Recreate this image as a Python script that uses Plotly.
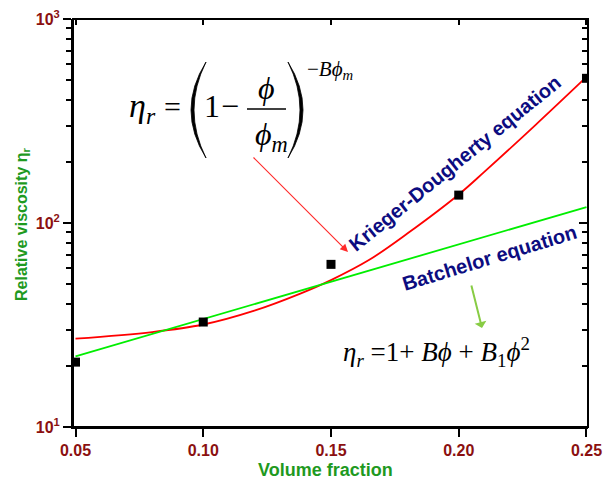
import plotly.graph_objects as go

# Measured relative viscosity vs. volume fraction
phi = [0.05, 0.10, 0.15, 0.20, 0.25]
eta_measured = [20.8, 32.7, 62.7, 137.0, 512.0]

# Krieger-Dougherty fitted curve
kd_phi = [0.05, 0.08, 0.10, 0.12, 0.138, 0.15, 0.165, 0.18, 0.20, 0.21, 0.23, 0.25]
kd_eta = [27.1, 29.2, 31.8, 37.2, 45.1, 52.5, 66.0, 89.0, 138.0, 178.0, 302.0, 520.0]

# Batchelor fitted curve
bat_phi = [0.05, 0.10, 0.15, 0.20, 0.25]
bat_eta = [22.2, 33.8, 51.5, 78.5, 119.7]

x_ticks = [0.05, 0.10, 0.15, 0.20, 0.25]
x_ticktext = ["0.05", "0.10", "0.15", "0.20", "0.25"]
y_ticks = [10, 100, 1000]
y_ticktext = ["10<sup>1</sup>", "10<sup>2</sup>", "10<sup>3</sup>"]

W, H = 603, 483
L, R, T, B = 73, 15, 19, 56
PW, PH = W - L - R, H - T - B

def px(x):
    return (x - L) / PW

def py(y):
    return (H - B - y) / PH

TICK_COLOR = "#8b1010"
TITLE_COLOR = "#1f9a1f"
NAVY = "#0c0c80"
SERIF = "Liberation Serif"
SANS = "Arial"

def bold_font(size, color):
    return dict(family=SANS, size=size, color=color, weight=700)

x_range = [0.04902, 0.25059]
y_range = [1, 3]

fig = go.Figure()
fig.add_trace(go.Scatter(x=kd_phi, y=kd_eta, mode="lines",
                         line=dict(color="#ff0000", width=1.8, shape="spline", smoothing=1.0),
                         showlegend=False, hoverinfo="skip"))
fig.add_trace(go.Scatter(x=bat_phi, y=bat_eta, mode="lines",
                         line=dict(color="#00ee00", width=1.8),
                         showlegend=False, hoverinfo="skip"))
# measured points sit on the top/right axes, which share the same ranges
fig.add_trace(go.Scatter(x=phi, y=eta_measured, mode="markers", xaxis="x2", yaxis="y2",
                         marker=dict(symbol="square", size=9, color="black"),
                         showlegend=False))

base = dict(showgrid=False, zeroline=False, tickcolor="black", automargin=False)

fig.update_layout(
    width=W, height=H,
    margin=dict(l=L, r=R, t=T, b=B),
    paper_bgcolor="white", plot_bgcolor="white",
    xaxis=dict(range=x_range, tickvals=x_ticks, ticktext=x_ticktext,
               ticks="outside", ticklen=8, tickwidth=2, ticklabeloverflow="allow",
               showline=True, linecolor="black", linewidth=2,
               tickfont=bold_font(16, TICK_COLOR), **base),
    yaxis=dict(type="log", range=y_range, tickvals=y_ticks, ticktext=y_ticktext,
               ticks="outside", ticklen=8, tickwidth=2,
               minor=dict(dtick="D1", ticks="outside", ticklen=5, tickwidth=2,
                          tickcolor="black", showgrid=False),
               showline=True, linecolor="black", linewidth=2,
               tickfont=bold_font(16, TICK_COLOR), **base),
    # top and right edges with inward ticks
    xaxis2=dict(range=x_range, overlaying="x", side="top", anchor="free", position=1,
                tickvals=x_ticks, ticks="inside", ticklen=5, tickwidth=2,
                showticklabels=False, showline=True, linecolor="black", linewidth=2, **base),
    yaxis2=dict(type="log", range=y_range, overlaying="y", side="right", anchor="free",
                position=1, tickvals=y_ticks, ticks="inside", ticklen=8, tickwidth=2,
                minor=dict(dtick="D1", ticks="inside", ticklen=5, tickwidth=2,
                           tickcolor="black", showgrid=False),
                showticklabels=False, showline=True, linecolor="black", linewidth=2, **base),
)

ann = []

# axis titles
ann.append(dict(text="<b>Volume fraction</b>", x=px(325), y=py(470), xref="paper",
                yref="paper", showarrow=False, xanchor="center", yanchor="middle",
                font=bold_font(18, TITLE_COLOR)))
ann.append(dict(text="<b>Relative viscosity</b> η<sub>r</sub>", x=px(22), y=py(224),
                xref="paper", yref="paper", showarrow=False, textangle=-90,
                xanchor="center", yanchor="middle", font=bold_font(16, TITLE_COLOR)))

# Krieger-Dougherty equation, built piece by piece
def eq(text, x, y, size):
    ann.append(dict(text=text, x=px(x), y=py(y), xref="paper", yref="paper",
                    showarrow=False, xanchor="center", yanchor="middle",
                    font=dict(family=SERIF, size=size, color="black")))

eq("<i>η</i><sub><i>r</i></sub>", 142, 108, 34)
eq("=", 172, 106, 30)
eq("1", 212, 106, 32)
eq("−", 230, 106, 32)
eq("<i>ϕ</i>", 266, 88, 32)
eq("<i>ϕ</i><sub><i>m</i></sub>", 271, 136, 32)
eq("−<i>Bϕ</i><sub><i>m</i></sub>", 330, 70, 21)

shapes = [
    # plot frame
    dict(type="rect", xref="paper", yref="paper", x0=0, x1=1, y0=0, y1=1,
         line=dict(color="black", width=2), layer="above"),
    # fraction bar
    dict(type="line", xref="paper", yref="paper",
         x0=px(247), x1=px(286), y0=py(109), y1=py(109),
         line=dict(color="black", width=1.5)),
]

def paren(x_end, x_ctrl_outer, x_ctrl_inner, y0, y1):
    ym = (y0 + y1) / 2
    path = (f"M {px(x_end)},{py(y0)} Q {px(x_ctrl_outer)},{py(ym)} {px(x_end)},{py(y1)} "
            f"Q {px(x_ctrl_inner)},{py(ym)} {px(x_end)},{py(y0)} Z")
    return dict(type="path", xref="paper", yref="paper", path=path,
                fillcolor="black", line=dict(color="black", width=0.8))

shapes.append(paren(206, 176, 182, 62, 158))
shapes.append(paren(288, 318, 312, 62, 158))

# Batchelor equation
eq("<i>η</i><sub><i>r</i></sub> =1+ <i>Bϕ</i> + <i>B</i><sub>1</sub><i>ϕ</i><sup>2</sup>",
   436, 352, 27)

# curve labels
ann.append(dict(text="<b>Krieger-Dougherty equation</b>", x=px(455), y=py(163),
                xref="paper", yref="paper", showarrow=False, textangle=-39,
                xanchor="center", yanchor="middle", font=bold_font(20, NAVY)))
ann.append(dict(text="<b>Batchelor equation</b>", x=px(489), y=py(258),
                xref="paper", yref="paper", showarrow=False, textangle=-17,
                xanchor="center", yanchor="middle", font=bold_font(20, NAVY)))

# pointer arrows
ann.append(dict(text="", x=px(348), y=py(252), xref="paper", yref="paper",
                ax=-96, ay=-96, showarrow=True, arrowhead=2, arrowsize=1.3,
                arrowwidth=1.2, arrowcolor="#ff2a2a"))
ann.append(dict(text="", x=px(482), y=py(328), xref="paper", yref="paper",
                ax=-11, ay=-44, showarrow=True, arrowhead=1, arrowsize=1,
                arrowwidth=2, arrowcolor="#88cc44"))

fig.update_layout(annotations=ann, shapes=shapes)
fig.write_html("out.html")
